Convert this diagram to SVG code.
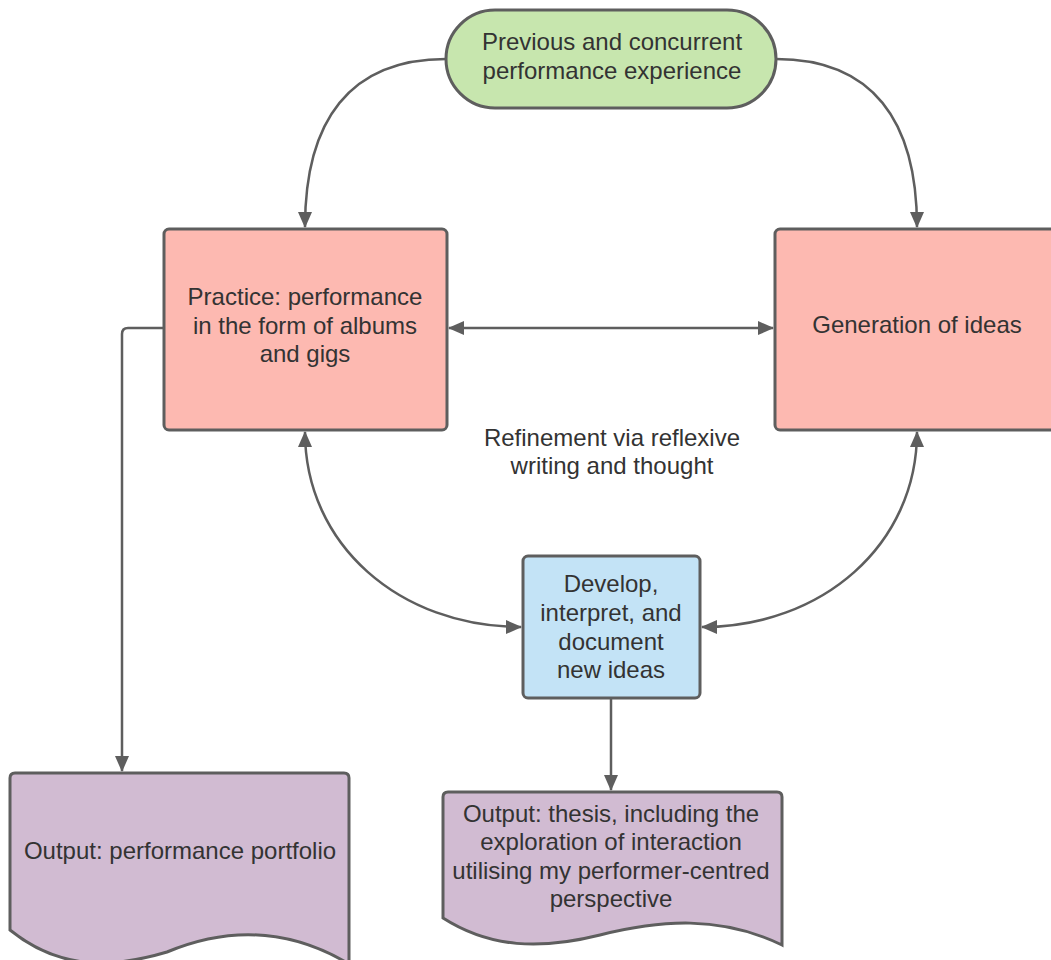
<svg xmlns="http://www.w3.org/2000/svg" width="1051" height="960" viewBox="0 0 1051 960">
<style>
.n{stroke:#5e5e5e;stroke-width:3}
.t{font-family:"Liberation Sans",Arial,sans-serif;font-size:24px;fill:#333333;text-anchor:middle}
.c{fill:none;stroke:#5e5e5e;stroke-width:2.5}
</style>
<defs>
<marker id="ah" markerUnits="userSpaceOnUse" markerWidth="16" markerHeight="14" refX="15" refY="7" orient="auto-start-reverse">
<path d="M0,0 L16,7 L0,14 Z" fill="#5e5e5e"/>
</marker>
</defs>
<rect width="1051" height="960" fill="#ffffff"/>
<g id="connectors">
<path class="c" d="M446,59 C350,59 305,120 305,227" marker-end="url(#ah)"/>
<path class="c" d="M776,59 C872,59 917,120 917,227" marker-end="url(#ah)"/>
<path class="c" d="M449,328 H773" marker-start="url(#ah)" marker-end="url(#ah)"/>
<path class="c" d="M164,328 H128 Q122,328 122,334 V771" marker-end="url(#ah)"/>
<path class="c" d="M305,432 C305,545 400,627 521,627" marker-start="url(#ah)" marker-end="url(#ah)"/>
<path class="c" d="M917,432 C917,545 822,627 702,627" marker-start="url(#ah)" marker-end="url(#ah)"/>
<path class="c" d="M611,699 V790" marker-end="url(#ah)"/>
</g>
<g id="prev">
<rect class="n" x="446" y="10" width="330" height="98" rx="49" fill="#c7e6ae"/>
<text class="t" x="612" y="50">Previous and concurrent</text>
<text class="t" x="612" y="79">performance experience</text>
</g>
<g id="practice">
<rect class="n" x="164" y="229" width="283" height="201" rx="5" fill="#fdb9b1"/>
<text class="t" x="305" y="305">Practice: performance</text>
<text class="t" x="305" y="334">in the form of albums</text>
<text class="t" x="305" y="362">and gigs</text>
</g>
<g id="generation">
<rect class="n" x="775" y="229" width="290" height="201" rx="5" fill="#fdb9b1"/>
<text class="t" x="917" y="333">Generation of ideas</text>
</g>
<g id="refinement">
<text class="t" x="612" y="446">Refinement via reflexive</text>
<text class="t" x="612" y="474">writing and thought</text>
</g>
<g id="develop">
<rect class="n" x="523" y="556" width="177" height="142" rx="5" fill="#c3e3f6"/>
<text class="t" x="611" y="592">Develop,</text>
<text class="t" x="611" y="621">interpret, and</text>
<text class="t" x="611" y="650">document</text>
<text class="t" x="611" y="678">new ideas</text>
</g>
<g id="portfolio">
<path class="n" fill="#d1bbd2" d="M10,930 V778 Q10,773 15,773 H344 Q349,773 349,778 V964 C287,927 227,927 167,952 C107,970 57,968 10,930 Z"/>
<text class="t" x="180" y="859">Output: performance portfolio</text>
</g>
<g id="thesis">
<path class="n" fill="#d1bbd2" d="M443,918 V797 Q443,792 448,792 H777 Q782,792 782,797 V945 C720,915 660,920 600,935 C540,950 490,948 443,918 Z"/>
<text class="t" x="611" y="822">Output: thesis, including the</text>
<text class="t" x="611" y="850">exploration of interaction</text>
<text class="t" x="611" y="879">utilising my performer-centred</text>
<text class="t" x="611" y="907">perspective</text>
</g>
</svg>
